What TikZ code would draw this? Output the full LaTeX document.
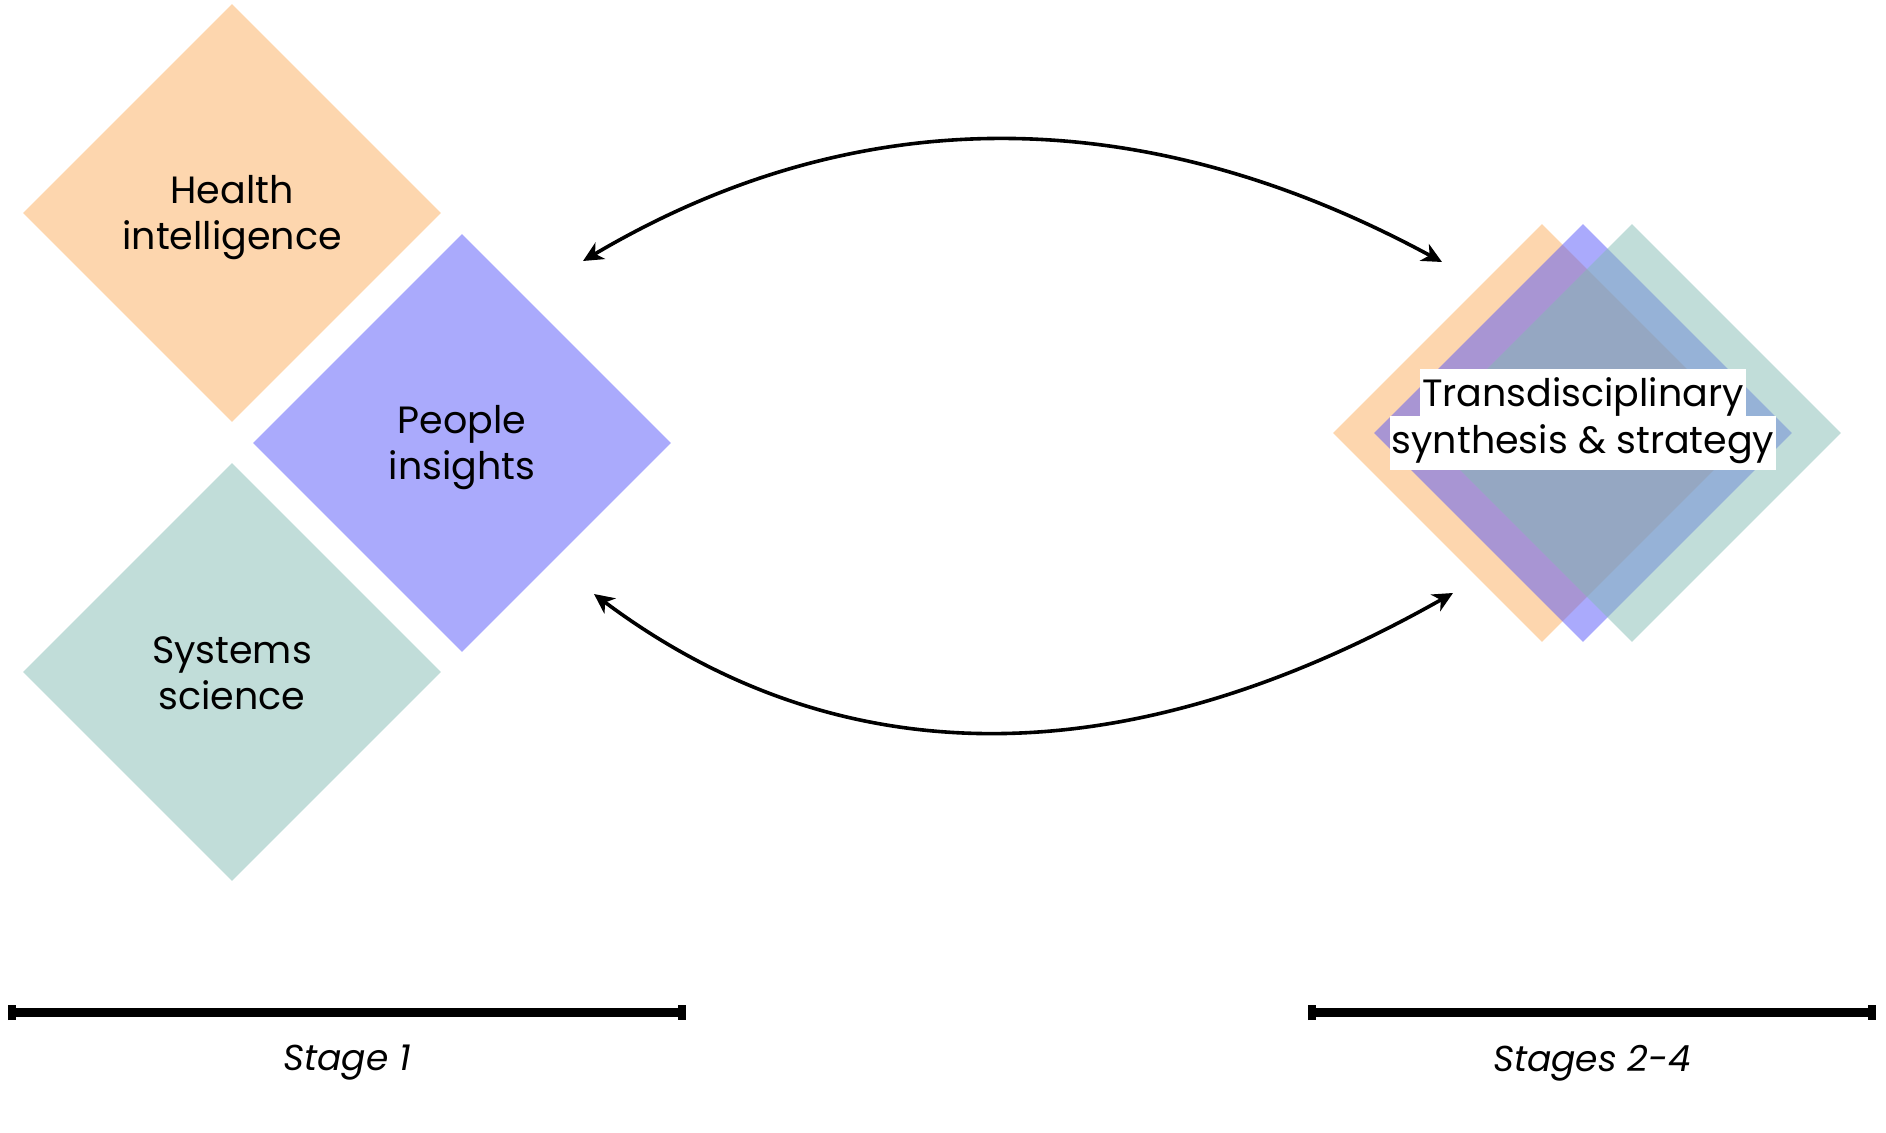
\documentclass[tikz,border=0pt]{standalone}
\usepackage{fontspec}
\setmainfont{Poppins}
\usetikzlibrary{arrows.meta,positioning,shapes.geometric}

\definecolor{healthorange}{RGB}{251,173,93}
\definecolor{peopleblue}{RGB}{85,85,250}
\definecolor{systemsgreen}{RGB}{131,187,179}

\tikzset{
  tile/.style={diamond, aspect=1, minimum width=209pt, minimum height=209pt,
    inner sep=0pt, fill opacity=0.5},
  tiletext/.style={align=center, font=\fontsize{19}{23}\selectfont},
  linebox/.style={fill=white, inner xsep=1pt, inner ysep=0pt,
    text height=19pt, text depth=8pt, font=\fontsize{19}{23}\selectfont},
  flow/.style={line width=1.8pt,
    {Stealth[length=10pt,width=9.5pt,inset=3pt]}-{Stealth[length=10pt,width=9.5pt,inset=3pt]}},
  stagebar/.style={line width=4.5pt,
    {Bar[width=7.5pt,line width=4pt]}-{Bar[width=7.5pt,line width=4pt]}},
  stagelabel/.style={font=\fontsize{18}{22}\selectfont\itshape}
}

\begin{document}
\begin{tikzpicture}[x=0.5pt, y=-0.5pt]
    \useasboundingbox (0,0) rectangle (1886,1133);

    % Stage 1 tiles
    \node[tile, fill=healthorange] (health) at (232,213) {};
    \node[tile, fill=peopleblue] (people) at (462,443) {};
    \node[tile, fill=systemsgreen] (systems) at (232,672) {};
    \node[tiletext] (healthtxt) at ([yshift=-2.5pt]health.center) {Health\\intelligence};
    \node[tiletext] (peopletxt) at ([yshift=-2.5pt]people.center) {People\\insights};
    \node[tiletext] (systemstxt) at ([yshift=-0.5pt]systems.center) {Systems\\science};

    % Stages 2-4: overlapping tiles
    \node[tile, fill=healthorange] (synthH) at (1542,433) {};
    \node[tile, fill=peopleblue] (synthP) at (1583,433) {};
    \node[tile, fill=systemsgreen] (synthS) at (1632,433) {};

    \node[linebox] (trans1) at (1583,396) {Transdisciplinary};
    \node[linebox, below=-4pt of trans1] (trans2) {synthesis \& strategy};

    % Loop between the stages
    \coordinate (loopTL) at (583,261);
    \coordinate (loopTR) at (1442,262);
    \coordinate (loopBL) at (594,594);
    \coordinate (loopBR) at (1453,593);
    \draw[flow] (loopTL) .. controls (857,99) and (1143,100) .. (loopTR);
    \draw[flow] (loopBL) .. controls (840,778) and (1126,778) .. (loopBR);

    % Stage bars
    \coordinate (bar1L) at (8,1012.5);
    \coordinate (bar1R) at (686,1012.5);
    \coordinate (bar2L) at (1308,1012.5);
    \coordinate (bar2R) at (1876,1012.5);
    \draw[stagebar] (bar1L) -- (bar1R);
    \draw[stagebar] (bar2L) -- (bar2R);
    \node[stagelabel] (stage1) at (347,1063) {Stage 1};
    \node[stagelabel] (stage2) at (1592,1063) {Stages 2-4};
\end{tikzpicture}
\end{document}
